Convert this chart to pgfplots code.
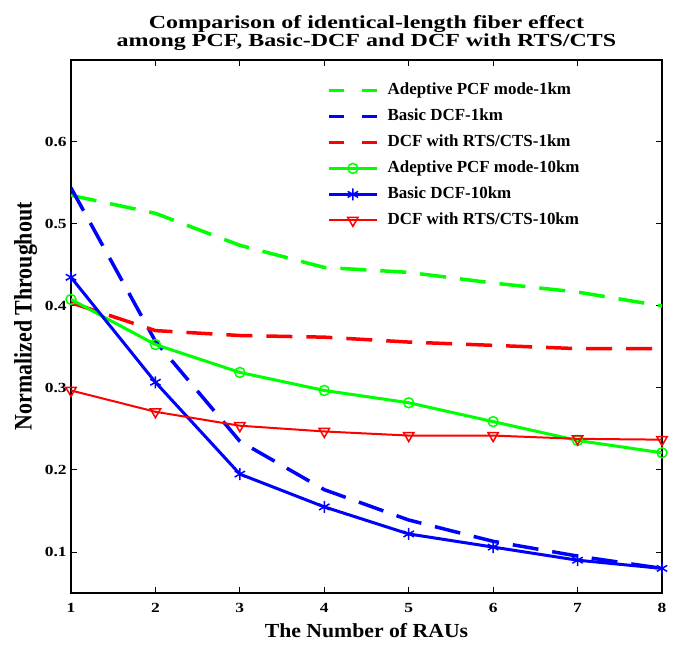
\documentclass[border=0pt]{standalone}
\usepackage{fontspec}
\setmainfont{Liberation Serif}
\usepackage{graphicx}
\usepackage{pgfplots}
\pgfplotsset{compat=1.18}

\definecolor{mgreen}{RGB}{0,255,0}
\definecolor{mblue}{RGB}{0,0,255}
\definecolor{mred}{RGB}{255,0,0}

\pgfplotsset{
  dashleg/.style={legend image code/.code={\draw[##1, dash pattern=on 15bp off 18bp] (0bp,0bp) -- (48bp,0bp);}},
  markleg/.style={legend image code/.code={\draw[mark repeat=2,mark phase=2,##1] plot coordinates {(0bp,0bp) (24bp,0bp) (48bp,0bp)};}},
}

\begin{document}
\begin{tikzpicture}[x=1bp,y=1bp]
\begin{axis}[
name=ax,
at={(0,0)}, anchor=south west,
scale only axis,
width=591bp, height=533bp,
xmin=1, xmax=8, ymin=0.05, ymax=0.7,
xtick={1,2,3,4,5,6,7,8},
xticklabels={1,2,3,4,5,6,7,8},
ytick={0.1,0.2,0.3,0.4,0.5,0.6},
yticklabels={0.1,0.2,0.3,0.4,0.5,0.6},
tick align=inside,
major tick length=6bp,
tick style={black, line width=1bp},
axis line style={line width=1.5bp},
ticklabel style={font=\fontsize{14}{14}\selectfont\bfseries, xscale=1.25},
xticklabel style={yshift=-7bp},
/pgf/number format/assume math mode=true,
title={\scalebox{1.3}[1]{Comparison of identical-length fiber effect}\\\scalebox{1.3}[1]{among PCF, Basic-DCF and DCF with RTS/CTS}},
title style={font=\fontsize{18.5}{18}\selectfont\bfseries, align=center},
xlabel={\scalebox{1.09}[1]{The Number of RAUs}},
ylabel={\scalebox{1}[1.15]{Normalized Throughout}},
xlabel style={font=\fontsize{20}{20}\selectfont\bfseries, yshift=-4bp},
ylabel style={font=\fontsize{22}{22}\selectfont\bfseries, at={(ticklabel cs:0.519)}},
legend style={draw=none, fill=none, at={(0.428,0.964)}, anchor=north west,
  font=\fontsize{17}{17}\selectfont\bfseries, row sep=8bp, column sep=8bp,
  nodes={inner sep=1bp, text height=12bp, text depth=4bp}},
legend cell align=left,
]
% 1 km, dashed
\addplot[mgreen, line width=3.5bp, dash pattern=on 26bp off 14bp, dashleg]
  coordinates {(1,0.535) (2,0.513) (3,0.474) (4,0.447) (5,0.441) (6,0.428) (7,0.417) (8,0.400)};
\addplot[mblue, line width=3.5bp, dash pattern=on 26bp off 14bp, dashleg]
  coordinates {(1,0.544) (2,0.357) (3,0.235) (4,0.176) (5,0.139) (6,0.113) (7,0.095) (8,0.080)};
\addplot[mred, line width=3.5bp, dash pattern=on 26bp off 14bp, dashleg]
  coordinates {(1,0.404) (2,0.370) (3,0.364) (4,0.362) (5,0.356) (6,0.352) (7,0.348) (8,0.348)};
% 10 km, solid with marks
\addplot[mgreen, line width=3bp, mark=o, mark size=5bp, mark options={line width=1.5bp, fill=none}, markleg]
  coordinates {(1,0.408) (2,0.353) (3,0.319) (4,0.297) (5,0.282) (6,0.259) (7,0.236) (8,0.221)};
\addplot[mblue, line width=3bp, mark=asterisk, mark size=6bp, mark options={line width=1.5bp}, markleg]
  coordinates {(1,0.435) (2,0.307) (3,0.195) (4,0.155) (5,0.122) (6,0.106) (7,0.090) (8,0.080)};
\addplot[mred, line width=2bp, mark=triangle, mark size=6bp, mark options={rotate=180, line width=1.5bp, fill=none}, markleg]
  coordinates {(1,0.297) (2,0.271) (3,0.254) (4,0.247) (5,0.242) (6,0.242) (7,0.238) (8,0.237)};
\legend{Adeptive PCF mode-1km, Basic DCF-1km, DCF with RTS/CTS-1km,
  Adeptive PCF mode-10km, Basic DCF-10km, DCF with RTS/CTS-10km}
\end{axis}
\pgfresetboundingbox
\useasboundingbox (-71bp,-55bp) rectangle (614bp,593bp);
\end{tikzpicture}
\end{document}
